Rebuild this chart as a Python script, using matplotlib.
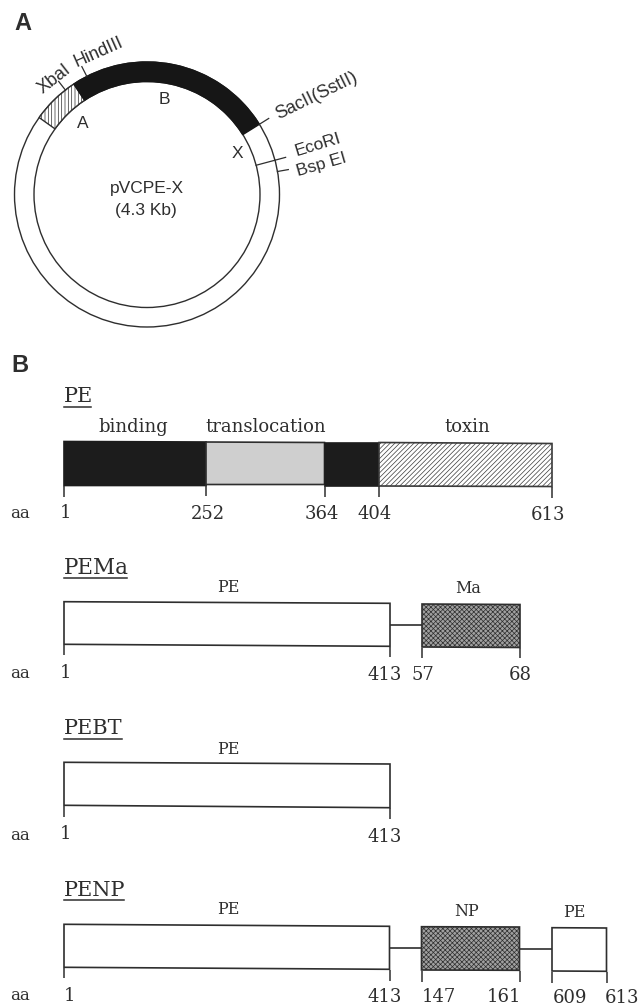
import numpy as np
import matplotlib
matplotlib.use('Agg')
from matplotlib import pyplot as plt
from matplotlib.patches import Circle, Wedge, Polygon

INK = '#2e2e2e'
SERIF = 'DejaVu Serif'
SANS = 'Liberation Sans'

# plasmid map, angles in degrees counted anticlockwise from 3 o'clock
plasmid_center = (147, 194.5)
plasmid_outer = 132.5
plasmid_inner = 113
arc_hatched = (123.5, 144.5)
arc_black = (32, 123.5)
site_names = ['XbaI', 'HindIII', 'SacII(SstII)', 'EcoRI', 'Bsp EI']
site_angles = [128, 117, 32, 15, 10]
site_text_xy = [(54, 79), (99, 52), (317, 96), (318, 145), (322, 165)]
site_text_rot = [38, 24, 26, 17, 16]
site_text_size = [13, 13, 13, 12.5, 12.5]
region_names = ['A', 'B', 'X', 'pVCPE-X', '(4.3 Kb)']
region_xy = [(83, 124), (164, 99), (237, 154), (147, 189), (146, 210)]

# constructs: name, title y, title underline end
construct_names = ['PE', 'PEMa', 'PEBT', 'PENP']
title_y = [396, 568, 728, 890]
title_size = [15, 15.5, 15, 15]
underline_y = [407, 577.5, 739, 900]
underline_end = [91, 127, 122, 124]
aa_y = [513, 673, 835, 996]

# boxes: x0, x1, top left/right, bottom left/right, fill kind
box_x0 = [64, 206, 324.5, 379, 64, 422, 64, 64, 421.5, 552]
box_x1 = [206, 324.5, 379, 552, 390, 520, 390, 389.5, 519.5, 606.5]
box_top = [(441.5, 442), (442, 442.5), (442.5, 442.5), (442.5, 443.5),
           (601.7, 603.3), (604, 604.5), (762.3, 764), (924.3, 926.3), (926.7, 927), (927.7, 928)]
box_bottom = [(485.5, 485.5), (484.5, 484.5), (485.5, 485.5), (486, 486.5),
              (644.3, 646.3), (647, 647.5), (805.3, 807.7), (967.3, 969.3), (970, 970.3), (971, 971.3)]
box_fill = ['dark', 'light', 'dark', 'stripe', 'none', 'mesh', 'none', 'none', 'mesh', 'none']

# tick: x, from y, to y
tick_x = [64, 206, 325, 379, 552, 64, 390, 422, 520, 64, 390, 64, 389.5, 421.5, 519.5, 552, 606.5]
tick_y0 = [486, 485, 486, 486, 487, 645, 647, 648, 648, 806, 808, 968, 970, 971, 971, 972, 972]
tick_y1 = [497, 496, 497, 497, 498, 655, 657, 658, 658, 817, 819, 978, 981, 982, 982, 983, 983]

# linkers between boxes
linker_x0 = [390, 389.5, 519.5]
linker_x1 = [422, 421.5, 552]
linker_y = [625, 948, 949]

# text above the boxes
head_names = ['binding', 'translocation', 'toxin', 'PE', 'Ma', 'PE', 'PE', 'NP', 'PE']
head_x = [133, 266, 467, 228, 468, 228, 228, 467, 574]
head_y = [426.5, 426.5, 427, 587.5, 588.5, 749, 910, 911.5, 912.5]

# residue numbers under the boxes
aa_labels = ['1', '252', '364', '404', '613', '1', '413', '57', '68',
             '1', '413', '1', '413', '147', '161', '609', '613']
aa_label_x = [66, 208, 322, 375, 548, 66, 385, 423, 520,
              66, 385, 70, 385, 439, 504, 570, 622]
aa_label_y = [513, 514, 514, 514, 515, 673, 675, 675, 675,
              834, 837, 996, 997, 997, 997, 998, 998]

plt.rcParams['hatch.linewidth'] = 0.5
fig = plt.figure(figsize=(6.39, 10.08), dpi=100)
ax = fig.add_axes([0, 0, 1, 1])
ax.set_xlim(0, 639)
ax.set_ylim(1008, 0)
ax.axis('off')

# panel letters
ax.text(23, 23, 'A', family=SANS, weight='bold', fontsize=17, color=INK, ha='center', va='center')
ax.text(20, 366, 'B', family=SANS, weight='bold', fontsize=17, color=INK, ha='center', va='center')

# plasmid ring (y axis points down, so the angles change sign)
cx, cy = plasmid_center
ring = plasmid_outer - plasmid_inner
ax.add_patch(Circle(plasmid_center, plasmid_outer, fc='white', ec=INK, lw=1))
ax.add_patch(Circle(plasmid_center, plasmid_inner, fc='white', ec=INK, lw=1))
ax.add_patch(Wedge(plasmid_center, plasmid_outer, -arc_hatched[1], -arc_hatched[0], width=ring,
                   fc='white', ec=INK, lw=1, hatch='|||||'))
ax.add_patch(Wedge(plasmid_center, plasmid_outer, -arc_black[1], -arc_black[0], width=ring,
                   fc='#161616', ec='#161616', lw=1))

for angle in site_angles:
    a = np.radians(angle)
    r0, r1 = plasmid_outer, plasmid_outer + 11
    ax.plot([cx + r0 * np.cos(a), cx + r1 * np.cos(a)],
            [cy - r0 * np.sin(a), cy - r1 * np.sin(a)], color=INK, lw=0.9)
# the EcoRI line crosses the ring
a = np.radians(site_angles[3])
ax.plot([cx + plasmid_inner * np.cos(a), cx + plasmid_outer * np.cos(a)],
        [cy - plasmid_inner * np.sin(a), cy - plasmid_outer * np.sin(a)], color=INK, lw=0.9)

for name, (x, y), rot, size in zip(site_names, site_text_xy, site_text_rot, site_text_size):
    ax.text(x, y, name, family=SANS, fontsize=size, color=INK, rotation=rot,
            rotation_mode='anchor', ha='center', va='center')
for name, (x, y) in zip(region_names, region_xy):
    ax.text(x, y, name, family=SANS, fontsize=12.5, color=INK, ha='center', va='center')

# construct titles
for name, y, uy, end, size in zip(construct_names, title_y, underline_y, underline_end, title_size):
    ax.text(64, y, name, family=SERIF, fontsize=size, color=INK, ha='left', va='center')
    ax.plot([64, end], [uy, uy], color=INK, lw=1.1)

# boxes
styles = {
    'dark': dict(fc='#1c1c1c', ec='#1c1c1c'),
    'light': dict(fc='#cfcfcf', ec=INK),
    'stripe': dict(fc='white', ec='#3a3a3a', hatch='///////'),
    'mesh': dict(fc='#a0a0a0', ec=INK, hatch='xxxxxxx'),
    'none': dict(fc='white', ec=INK),
}
for x0, x1, top, bot, kind in zip(box_x0, box_x1, box_top, box_bottom, box_fill):
    corners = [(x0, top[0]), (x1, top[1]), (x1, bot[1]), (x0, bot[0])]
    ax.add_patch(Polygon(corners, closed=True, lw=1.2, **styles[kind]))

ax.vlines(tick_x, tick_y0, tick_y1, color=INK, lw=1.1)
ax.hlines(linker_y, linker_x0, linker_x1, color=INK, lw=1.2)

for name, x, y in zip(head_names, head_x, head_y):
    size = 13 if name in ('binding', 'translocation', 'toxin') else 11.5
    ax.text(x, y, name, family=SERIF, fontsize=size, color=INK, ha='center', va='center')

for y in aa_y:
    ax.text(20, y, 'aa', family=SERIF, fontsize=12, color=INK, ha='center', va='center')
for label, x, y in zip(aa_labels, aa_label_x, aa_label_y):
    ax.text(x, y, label, family=SERIF, fontsize=13, color=INK, ha='center', va='center')

fig.savefig('out.png', dpi=100)
